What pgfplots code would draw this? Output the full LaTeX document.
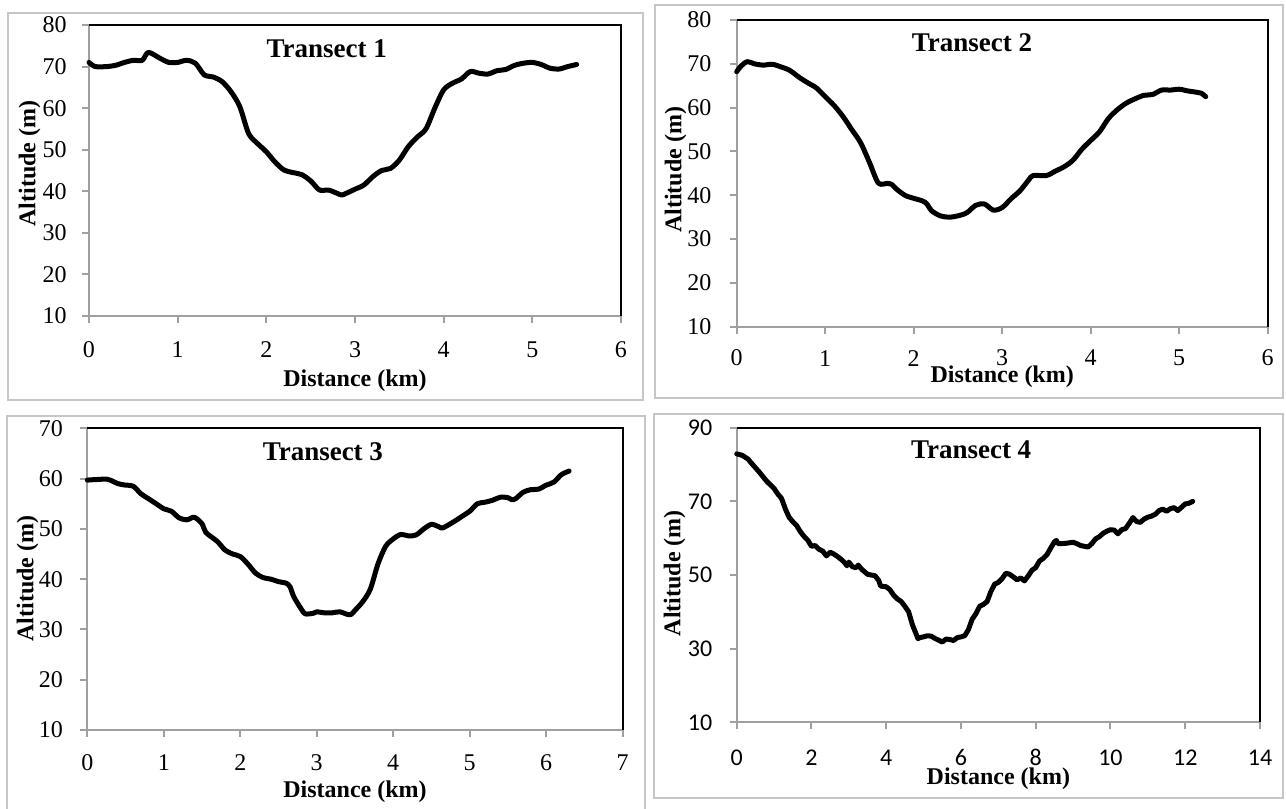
\documentclass[border=0pt]{standalone}
\usepackage{fontspec}
\setmainfont{Liberation Serif}
\newfontfamily\calibri{Carlito}
\usepackage{pgfplots}
\pgfplotsset{compat=1.18}
\definecolor{axgrey}{HTML}{A0A0A0}
\definecolor{framegrey}{HTML}{C6C6C6}
\newcommand\tickfont{\fontsize{12}{14}\selectfont}
\pgfplotsset{
  transect/.style={
    scale only axis,
    anchor=south west,
    axis x line*=bottom, axis y line*=left,
    axis line style={-, axgrey, line width=1pt},
    tick style={axgrey, line width=1pt},
    tick align=outside,
    major tick length=3.5pt,
    minor tick num=0,
    /pgf/number format/assume math mode=true,
    xticklabel style={anchor=center, inner sep=0pt, font=\tickfont},
    yticklabel style={anchor=east, inner sep=0pt, font=\tickfont},
    label style={font=\bfseries\fontsize{12}{14}\selectfont},
    xlabel style={anchor=center},
    ylabel style={anchor=center, rotate=0},
    title style={font=\bfseries\fontsize{13.5}{15}\selectfont, anchor=center, yshift=-6pt},
    xlabel={Distance (km)}, ylabel={Altitude (m)},
    clip=false,
  },
  curve/.style={black, line width=2.5pt, line join=round, line cap=round},
}
\begin{document}
\begin{tikzpicture}
\useasboundingbox (0,0) rectangle (643pt,404.5pt);
\draw[framegrey, line width=1.2pt] (4pt,204.5pt) rectangle (321.5pt,398pt);
\draw[framegrey, line width=1.2pt] (327.5pt,205.5pt) rectangle (641.5pt,402pt);
\draw[framegrey, line width=1.2pt] (3.5pt,-3pt) rectangle (322.5pt,196.5pt);
\draw[framegrey, line width=1.2pt] (327pt,5.5pt) rectangle (641.5pt,197.5pt);

% Panel 1
\begin{axis}[transect, at={(44.5pt,246.5pt)}, width=266pt, height=145.5pt,
  xmin=0, xmax=6, ymin=10, ymax=80, xtick={0,1,...,6}, ytick={10,20,...,80},
  xticklabel shift=13.5pt, yticklabel shift=7.5pt,
  title={Transect 1}, title style={at={(axis description cs:0.447,0.918)}},
  xlabel style={at={(axis description cs:0.5,0)}, yshift=-32.5pt},
  ylabel style={at={(axis description cs:-0.1117,0.524)}}]
\addplot[curve, smooth, tension=0.5] coordinates {
(0,71) (0.07,70) (0.2,70) (0.3,70.3) (0.4,71) (0.5,71.5) (0.6,71.5) (0.67,73.4)
(0.8,72) (0.9,71) (1.0,71) (1.1,71.5) (1.2,70.8) (1.3,68) (1.4,67.5) (1.5,66.4)
(1.6,64) (1.7,60.4) (1.8,53.9) (1.9,51.5) (2.0,49.5) (2.1,47) (2.2,45.1) (2.3,44.5)
(2.4,44) (2.5,42.5) (2.6,40.3) (2.7,40.3) (2.8,39.5) (2.85,39.1) (2.9,39.5) (3.0,40.5)
(3.1,41.5) (3.2,43.5) (3.3,45) (3.4,45.5) (3.5,47.5) (3.6,50.7) (3.7,53) (3.8,55)
(3.9,60) (4.0,64.4) (4.1,66) (4.2,67) (4.3,68.8) (4.4,68.4) (4.5,68.2) (4.6,69)
(4.7,69.3) (4.8,70.3) (4.9,70.8) (5.0,71) (5.1,70.5) (5.2,69.6) (5.3,69.4) (5.4,70) (5.5,70.5)
};
\draw[black, line width=1pt] (rel axis cs:0,1) -- (rel axis cs:1,1) -- (rel axis cs:1,0);
\end{axis}

% Panel 2
\begin{axis}[transect, at={(368.35pt,241.15pt)}, width=265.5pt, height=153.35pt,
  xmin=0, xmax=6, ymin=10, ymax=80, xtick={0,1,...,6}, ytick={10,20,...,80},
  xticklabel shift=12.2pt, yticklabel shift=9pt,
  title={Transect 2}, title style={at={(axis description cs:0.443,0.925)}},
  xlabel style={at={(axis description cs:0.5,0)}, yshift=-25pt},
  ylabel style={at={(axis description cs:-0.115,0.511)}}]
\addplot[curve, smooth, tension=0.5] coordinates {
(0,68.2) (0.05,69.5) (0.12,70.5) (0.2,70) (0.3,69.7) (0.4,69.9) (0.5,69.3) (0.6,68.5)
(0.7,67) (0.8,65.7) (0.9,64.5) (1.0,62.5) (1.1,60.5) (1.2,58) (1.3,55) (1.4,52)
(1.5,47.5) (1.6,42.8) (1.7,42.7) (1.75,42.5) (1.8,41.5) (1.9,40) (2.0,39.3) (2.1,38.7)
(2.15,38) (2.2,36.5) (2.3,35.3) (2.4,35) (2.5,35.3) (2.6,36) (2.7,37.7) (2.8,38)
(2.9,36.6) (3.0,37.2) (3.1,39.2) (3.2,41) (3.3,43.5) (3.35,44.5) (3.5,44.5) (3.6,45.5)
(3.7,46.5) (3.8,48) (3.9,50.5) (4.0,52.5) (4.1,54.5) (4.2,57.5) (4.3,59.5) (4.4,61)
(4.5,62) (4.6,62.8) (4.7,63) (4.8,64) (4.9,64) (5.0,64.2) (5.1,63.8) (5.2,63.5) (5.25,63.3) (5.3,62.5)
};
\draw[black, line width=1pt] (rel axis cs:0,1) -- (rel axis cs:1,1) -- (rel axis cs:1,0);
\end{axis}

% Panel 3
\begin{axis}[transect, at={(43.65pt,39.5pt)}, width=267.7pt, height=150.85pt,
  xmin=0, xmax=7, ymin=10, ymax=70, xtick={0,1,...,7}, ytick={10,20,...,70},
  xticklabel shift=13pt, yticklabel shift=8.5pt,
  title={Transect 3}, title style={at={(axis description cs:0.440,0.921)}},
  xlabel style={at={(axis description cs:0.5,0)}, yshift=-31pt},
  ylabel style={at={(axis description cs:-0.1117,0.502)}}]
\addplot[curve, smooth, tension=0.5] coordinates {
(0,59.7) (0.1,59.8) (0.25,59.9) (0.3,59.7) (0.4,59) (0.5,58.7) (0.6,58.5) (0.7,57)
(0.8,56) (0.9,55) (1.0,54) (1.1,53.5) (1.2,52.2) (1.3,51.8) (1.4,52.3) (1.5,51)
(1.55,49.3) (1.7,47.5) (1.8,45.8) (1.9,45) (2.0,44.5) (2.1,43) (2.2,41.2) (2.3,40.3)
(2.4,40) (2.5,39.5) (2.6,39.2) (2.65,38.5) (2.7,36.5) (2.8,34) (2.85,33.1) (2.95,33.2)
(3.0,33.5) (3.1,33.3) (3.2,33.3) (3.3,33.5) (3.4,33) (3.45,33) (3.5,33.8) (3.6,35.5)
(3.7,38) (3.8,43) (3.9,46.5) (4.0,48) (4.1,48.9) (4.2,48.6) (4.3,48.8) (4.4,50)
(4.5,50.9) (4.6,50.4) (4.65,50.2) (4.8,51.5) (4.9,52.5) (5.0,53.5) (5.1,55) (5.2,55.3)
(5.3,55.7) (5.4,56.3) (5.5,56.2) (5.55,55.8) (5.6,56) (5.7,57.3) (5.8,57.8) (5.9,57.9)
(6.0,58.7) (6.1,59.3) (6.2,60.8) (6.3,61.5)
};
\draw[black, line width=1pt] (rel axis cs:0,1) -- (rel axis cs:1,1) -- (rel axis cs:1,0);
\end{axis}

% Panel 4
\begin{axis}[transect, at={(368.35pt,43.35pt)}, width=261.65pt, height=147.3pt,
  xmin=0, xmax=14, ymin=10, ymax=90, xtick={0,2,...,14}, ytick={10,30,50,70,90},
  xticklabel style={font=\calibri\tickfont}, yticklabel style={font=\calibri\tickfont},
  xticklabel shift=14.1pt, yticklabel shift=8.5pt,
  title={Transect 4}, title style={at={(axis description cs:0.448,0.924)}},
  xlabel style={at={(axis description cs:0.5,0)}, yshift=-28pt},
  ylabel style={at={(axis description cs:-0.1185,0.506)}}]
\addplot[curve] coordinates {
(0,82.9) (0.15,82.5) (0.3,81.5) (0.4,80.3) (0.6,78) (0.8,75.5) (0.9,74.5) (1.0,73.5)
(1.1,72) (1.2,70.8) (1.3,68) (1.4,65.7) (1.5,64.5) (1.6,63.5) (1.7,61.8) (1.8,60.5)
(1.9,59.5) (2.0,57.8) (2.1,58) (2.2,57) (2.3,56.5) (2.4,55.2) (2.5,56.2) (2.6,55.7)
(2.7,55) (2.8,54.2) (2.9,53.2) (2.95,52.5) (3.0,53.5) (3.1,52.2) (3.2,52) (3.25,52.7)
(3.35,51.5) (3.5,50.2) (3.6,50) (3.7,49.8) (3.8,48.5) (3.85,47) (4.0,46.8) (4.1,46)
(4.2,44.5) (4.3,43.5) (4.4,42.8) (4.5,41.5) (4.6,40) (4.7,36.5) (4.8,34) (4.85,32.7)
(4.9,33) (5.0,33.2) (5.1,33.5) (5.2,33.4) (5.3,32.8) (5.4,32.3) (5.5,31.8) (5.6,32.6)
(5.7,32.5) (5.8,32.2) (5.9,33) (6.0,33.2) (6.1,33.5) (6.2,35.2) (6.3,38) (6.4,39.5)
(6.5,41.5) (6.6,42) (6.7,42.8) (6.8,45.5) (6.9,47.5) (7.0,48) (7.1,49) (7.2,50.5)
(7.3,50.2) (7.4,49.5) (7.5,48.7) (7.6,49.2) (7.7,48.4) (7.8,49.8) (7.9,51.3) (8.0,52)
(8.1,53.8) (8.2,54.5) (8.3,55.5) (8.4,57.3) (8.5,59) (8.55,59.4) (8.6,58.5) (8.8,58.6)
(9.0,58.9) (9.1,58.5) (9.2,58) (9.4,57.6) (9.5,58.5) (9.6,59.8) (9.7,60.4) (9.8,61.3)
(9.9,61.9) (10.0,62.3) (10.1,62.2) (10.2,61.2) (10.3,62.3) (10.4,62.6) (10.5,64) (10.6,65.6)
(10.7,64.5) (10.8,64.3) (10.9,65.2) (11.0,65.7) (11.1,66) (11.2,66.5) (11.3,67.5) (11.4,67.9)
(11.5,67.3) (11.6,68) (11.7,68.3) (11.8,67.5) (11.9,68.4) (12.0,69.3) (12.1,69.5) (12.2,70)
};
\draw[black, line width=1pt] (rel axis cs:0,1) -- (rel axis cs:1,1) -- (rel axis cs:1,0);
\end{axis}
\end{tikzpicture}
\end{document}
